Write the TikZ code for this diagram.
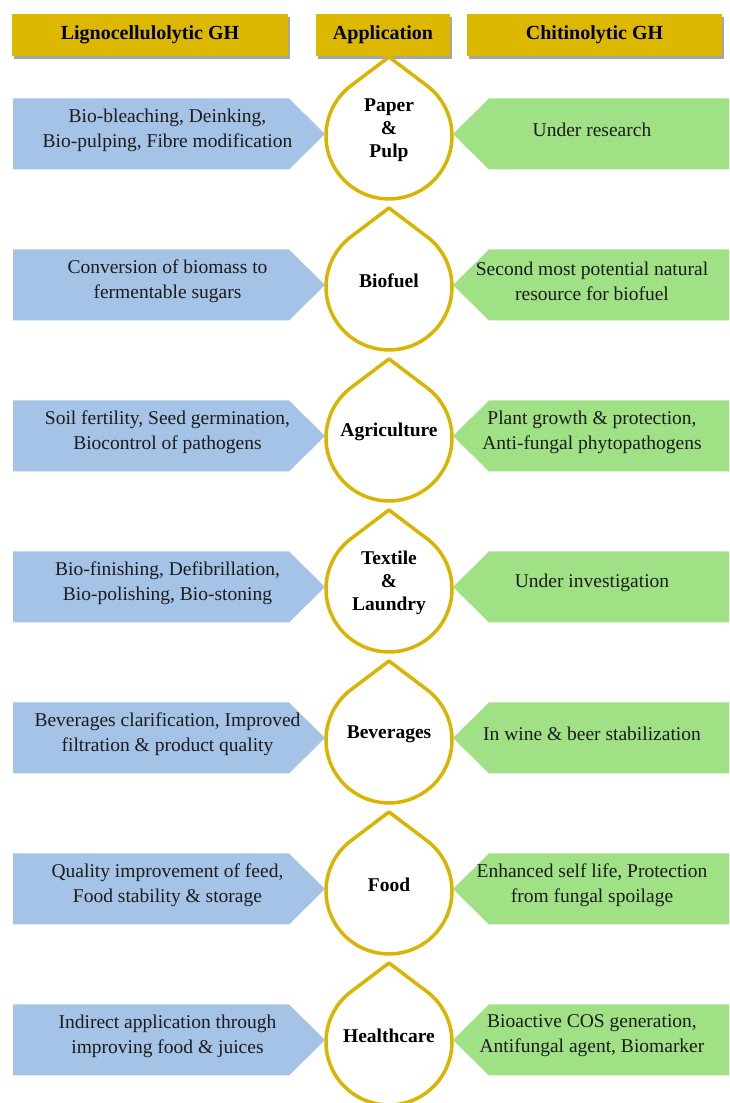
\documentclass[tikz,border=0pt]{standalone}
\usepackage{fontspec}
\setmainfont{Liberation Serif}
\usetikzlibrary{shadows}
\definecolor{hdr}{HTML}{DCB900}
\definecolor{dropc}{HTML}{D9B502}
\definecolor{bluef}{HTML}{A5C3E6}
\definecolor{greenf}{HTML}{A0E185}
\definecolor{txt}{HTML}{1C1C1C}
\tikzset{
  hdrbox/.style={fill=hdr, drop shadow={shadow xshift=2pt, shadow yshift=-3pt, fill=black, opacity=0.35},
    inner sep=0pt, minimum height=42pt, font=\fontsize{20}{24}\selectfont\bfseries, text=black},
  bluearrow/.style={fill=bluef},
  greenarrow/.style={fill=greenf},
  dropline/.style={draw=dropc, fill=white, line width=3.5pt, line join=round},
  sidetext/.style={align=center, inner sep=0pt, text=txt, font=\fontsize{19.5}{25}\selectfont},
  midtext/.style={align=center, inner sep=0pt, text=black, font=\fontsize{19.5}{23}\selectfont\bfseries}
}
\newcommand\glrow[5]{%
  \begin{scope}[yshift=#2]
    \fill[bluearrow] (13,35.5) -- (289,35.5) -- (325,0) -- (289,-35.5) -- (13,-35.5) -- cycle;
    \fill[greenarrow] (729,35.5) -- (489,35.5) -- (453,0) -- (489,-35.5) -- (729,-35.5) -- cycle;
    \draw[dropline] (389,77) -- (351,48.3)
      arc[start angle=127.1, end angle=412.9, radius=63] -- cycle;
    \node[sidetext] (#1-l) at (167.5,4) {#3};
    \node[midtext] (#1-m) at (389,4) {#4};
    \node[sidetext] (#1-r) at (592,4) {#5};
  \end{scope}}
\begin{document}
\begin{tikzpicture}[x=1pt,y=1pt]
  \fill[white] (0,0) rectangle (729,1103);
  \useasboundingbox (0,0) rectangle (729,1103);
  \clip (0,0) rectangle (729,1103);
  \node[hdrbox, minimum width=276pt] (hl) at (150,1068) {Lignocellulolytic GH};
  \node[hdrbox, minimum width=134pt] (ha) at (383,1068) {Application};
  \node[hdrbox, minimum width=255pt] (hc) at (594.5,1068) {Chitinolytic GH};
  \glrow{paper}{969}{Bio-bleaching, Deinking,\\Bio-pulping, Fibre modification}{Paper\\\&\\Pulp}{Under research}
  \glrow{fuel}{818}{Conversion of biomass to\\fermentable sugars}{Biofuel}{Second most potential natural\\resource for biofuel}
  \glrow{agri}{667}{Soil fertility, Seed germination,\\Biocontrol of pathogens}{Agriculture}{Plant growth \& protection,\\Anti-fungal phytopathogens}
  \glrow{tex}{516}{Bio-finishing, Defibrillation,\\Bio-polishing, Bio-stoning}{Textile\\\&\\Laundry}{Under investigation}
  \glrow{bev}{365}{Beverages clarification, Improved\\filtration \& product quality}{Beverages}{In wine \& beer stabilization}
  \glrow{food}{214}{Quality improvement of feed,\\Food stability \& storage}{Food}{Enhanced self life, Protection\\from fungal spoilage}
  \glrow{health}{63}{Indirect application through\\improving food \& juices}{Healthcare}{Bioactive COS generation,\\Antifungal agent, Biomarker}
\end{tikzpicture}
\end{document}
